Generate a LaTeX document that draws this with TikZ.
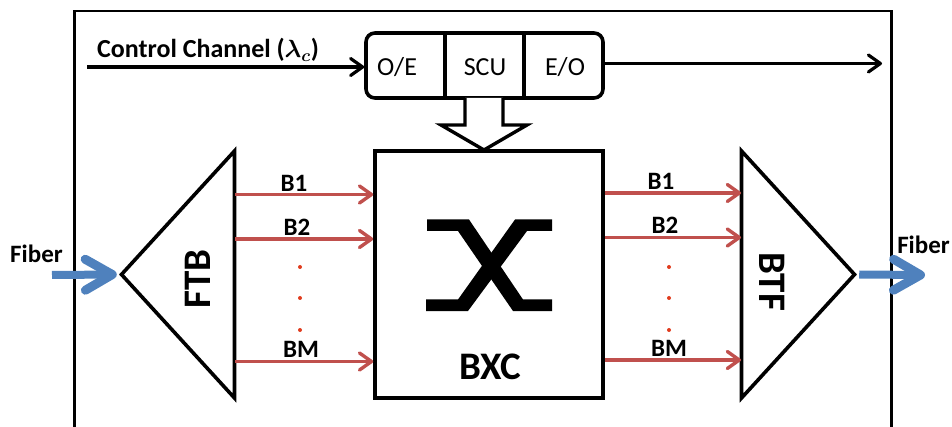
\documentclass[tikz,border=0pt]{standalone}
\usepackage{fontspec}
\setmainfont{Carlito}
\usetikzlibrary{positioning, arrows.meta, shapes.geometric}
\definecolor{busred}{RGB}{192, 80, 77}
\definecolor{fiberblue}{RGB}{79, 129, 189}
\definecolor{dotred}{RGB}{224, 60, 30}

\begin{document}
\begin{tikzpicture}[
        x=1pt, y=-1pt,
        blockbox/.style={draw=black, line width=3.6pt, fill=white, inner sep=0pt},
        wedge/.style={blockbox, isosceles triangle, isosceles triangle stretches,
            minimum width=247pt, minimum height=113pt},
        ctrlline/.style={line width=3.2pt, -{Straight Barb[length=12pt, width=17pt, round, line width=3.2pt]}},
        busline/.style={draw=busred, line width=3.4pt, -{Straight Barb[length=12pt, width=17pt, round, line width=3.4pt]}},
        fiberline/.style={draw=fiberblue, line width=8pt, -{Straight Barb[length=27pt, width=31pt, round, line width=9pt]}},
        celltext/.style={font=\fontsize{26}{30}\selectfont, inner sep=0pt},
        labeltext/.style={font=\fontsize{25}{30}\selectfont\bfseries, inner sep=0pt},
        bigtext/.style={font=\fontsize{39}{44}\selectfont\bfseries, inner sep=0pt},
        busdot/.style={circle, fill=dotred, minimum size=4pt, inner sep=0pt}
    ]
    \useasboundingbox (0,0) rectangle (952,427);
    % outer frame
    \draw[line width=2.2pt] (74.5,427) -- (74.5,11) -- (891.5,11) -- (891.5,427);

    % control channel
    \node[blockbox, rounded corners=9pt, minimum width=237pt, minimum height=65pt] (scu) at (484.5,65.5) {};
    \draw[line width=3.6pt] (445,33) -- (445,98);
    \draw[line width=3.6pt] (524,33) -- (524,98);
    \node[celltext] (oe) at (397,67) {O/E};
    \node[celltext] (scutext) at (485,67) {SCU};
    \node[celltext] (eo) at (565,67) {E/O};
    \node[labeltext, font=\fontsize{26}{30}\selectfont\bfseries, anchor=base west] (ctrl) at (97,58) {Control Channel ({\boldmath$\lambda_c$})};
    \coordinate (ctrlin) at (87,67);
    \coordinate (ctrlout) at (882,63.5);
    \draw[ctrlline] (ctrlin) -- (ctrlin -| scu.west);
    \draw[ctrlline] (ctrlout -| scu.east) -- (ctrlout);

    % switch
    \node[blockbox, minimum width=228pt, minimum height=247pt] (bxc) at (489,274.5) {};
    \node[bigtext] (bxctext) at (490,367) {BXC};
    \fill (427,219.5) -- (469,219.5) -- (523,299.5) -- (552,299.5) -- (552,311) -- (513,311)
        -- (458,231) -- (427,231) -- cycle;
    \fill (426,299.5) -- (458,299.5) -- (515,219.5) -- (552,219.5) -- (552,231) -- (527,231)
        -- (468,311) -- (426,311) -- cycle;
    \draw[line width=3.4pt, fill=white, line join=miter] (465,98) -- (465,125) -- (441,125) -- (484,150)
        -- (527,125) -- (503,125) -- (503,98);

    % bands in and out
    \node[wedge, shape border rotate=180] (ftb) at (186.5,274.5) {};
    \node[wedge, shape border rotate=0] (btf) at (789.5,274.5) {};
    \node[bigtext, rotate=90] (ftbtext) at (198,279) {FTB};
    \node[bigtext, rotate=-90] (btftext) at (772,282) {BTF};

    \coordinate (ftbone) at (235,194.5);
    \coordinate (ftbtwo) at (235,239);
    \coordinate (ftbem) at (235,361.5);
    \coordinate (btfone) at (741,193);
    \coordinate (btftwo) at (741,237.5);
    \coordinate (btfem) at (741,360);
    \foreach \a in {ftbone, ftbtwo, ftbem}
        \draw[busline] (\a) -- (\a -| bxc.west);
    \foreach \a in {btfone, btftwo, btfem}
        \draw[busline] (\a -| bxc.east) -- (\a);

    \node[labeltext] (bonel) at (294,183) {B1};
    \node[labeltext] (btwol) at (297,227) {B2};
    \node[labeltext] (bml) at (301,349) {BM};
    \node[labeltext] (boner) at (661,181) {B1};
    \node[labeltext] (btwor) at (665,225) {B2};
    \node[labeltext] (bmr) at (669,348) {BM};
    \foreach \y [count=\i] in {267, 298, 330} {
        \node[busdot] (dotl\i) at (300,\y) {};
        \node[busdot] (dotr\i) at (669,\y) {};
    }

    % fibers
    \coordinate (fiberin) at (52,275);
    \coordinate (fiberout) at (925,275);
    \draw[fiberline] (fiberin) -- (ftb.apex);
    \draw[fiberline] (btf.apex) -- (fiberout);
    \node[labeltext] (fiberl) at (36.5,254) {Fiber};
    \node[labeltext] (fiberr) at (923.5,245) {Fiber};
\end{tikzpicture}
\end{document}
